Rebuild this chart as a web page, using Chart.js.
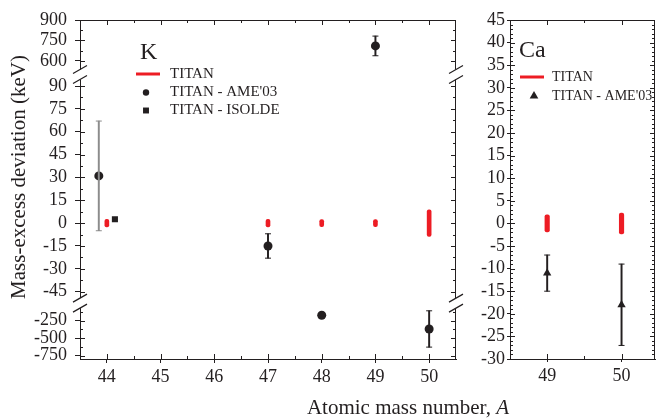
<!DOCTYPE html>
<html>
<head>
<meta charset="utf-8">
<script src="https://cdn.jsdelivr.net/npm/chart.js@4.4.1/dist/chart.umd.min.js"></script>
<style>
  body { margin: 0; background: #fff; overflow: hidden; }
  #wrap { position: relative; width: 656px; height: 419px; overflow: hidden; }
  #kChart { position: absolute; left: 0; top: 0; }
  #caChart { position: absolute; left: 470px; top: 0; }
</style>
</head>
<body>
<div id="wrap">
  <canvas id="kChart" width="656" height="419"></canvas>
  <canvas id="caChart" width="200" height="419"></canvas>
</div>
<script>
// K panel data (keV)
const kTitanMass = [44, 47, 48, 49, 50];
const kTitanErr = [2.5, 2.5, 2.3, 2.3, 8.7];
const kAmeMass = [43.85, 47, 48, 49, 50];
const kAmeDev = [31, -15, -174, 710, -370];
const kAmeErr = [36, 8, 0, 72, 260];
const kIsoldeMass = [44.15];
const kIsoldeDev = [2.5];
const kMassTicks = [44, 45, 46, 47, 48, 49, 50];
const kTopTicks = [600, 750, 900];
const kMidTicks = [-45, -30, -15, 0, 15, 30, 45, 60, 75, 90];
const kBotTicks = [-750, -500, -250];

// Ca panel data (keV)
const caTitanMass = [49, 50];
const caTitanErr = [1.9, 2.3];
const caAmeMass = [49, 50];
const caAmeDev = [-11, -18];
const caAmeErr = [4, 9];
const caMassTicks = [49, 50];
const caDevTicks = [-30, -25, -20, -15, -10, -5, 0, 5, 10, 15, 20, 25, 30, 35, 40, 45];

const ink = '#231f20';
const red = '#ed1c24';
const serif = "'Liberation Serif', 'Times New Roman', serif";

// broken y axis of the K panel: three stacked pieces, top to bottom
const kSegs = [
  { id: 'yTop', min: 500, max: 900, ticks: kTopTicks, minor: 75, weight: 54.7 },
  { id: 'yMid', min: -52.5, max: 97.5, ticks: kMidTicks, minor: 7.5, weight: 229 },
  { id: 'yBot', min: -800, max: 0, ticks: kBotTicks, minor: 125, weight: 56 }
];
function segOf(v) { return kSegs.find(s => v >= s.min && v <= s.max).id; }

// gray whisker for the shifted A=44 point, black otherwise
const whisk = c => (c.raw && c.raw.x < 44) ? '#8c8c8c' : ink;

function errorSets(mass, dev, err, idx, axisId) {
  idx = idx.filter(i => err[i] > 0);
  return [
    { type: 'bar', yAxisID: axisId, grouped: false, barThickness: 1.3, backgroundColor: whisk, borderWidth: 0,
      data: idx.map(i => ({ x: mass[i], y: [dev[i] - err[i], dev[i] + err[i]] })) },
    { type: 'scatter', yAxisID: axisId, pointStyle: 'line', pointRadius: 3, pointBorderColor: whisk, pointBorderWidth: 1,
      data: idx.flatMap(i => [{ x: mass[i], y: dev[i] - err[i] }, { x: mass[i], y: dev[i] + err[i] }]) }
  ];
}

function marks(scale, minor) {
  const majors = scale.ticks.map(t => t.value);
  const out = majors.map(v => ({ v, major: true }));
  const start = Math.ceil(scale.min / minor - 1e-9) * minor;
  for (let v = start; v < scale.max - 1e-9; v += minor) {
    if (v <= scale.min + 1e-9) continue;
    if (!majors.some(m => Math.abs(m - v) < 1e-6)) out.push({ v, major: false });
  }
  return out;
}

// frame, inward ticks, axis breaks, labels and legends
const decor = {
  id: 'decor',
  afterDraw(chart, args, o) {
    const ctx = chart.ctx, a = chart.chartArea;
    ctx.save();
    ctx.strokeStyle = ink;
    ctx.lineWidth = 1;
    ctx.beginPath();
    ctx.moveTo(a.left, a.top + 0.5); ctx.lineTo(a.right, a.top + 0.5);
    ctx.moveTo(a.right - 0.5, a.top); ctx.lineTo(a.right - 0.5, a.bottom);
    const xs = chart.scales.x;
    marks(xs, o.xMinor).forEach(t => {
      const p = Math.round(xs.getPixelForValue(t.v)) + 0.5, len = t.major ? 5 : 3;
      ctx.moveTo(p, a.bottom); ctx.lineTo(p, a.bottom - len);
      ctx.moveTo(p, a.top); ctx.lineTo(p, a.top + len);
    });
    o.yAxes.forEach(([id, minor]) => {
      const ys = chart.scales[id];
      marks(ys, minor).forEach(t => {
        const p = Math.round(ys.getPixelForValue(t.v)) + 0.5, len = t.major ? 5 : 3;
        ctx.moveTo(a.left, p); ctx.lineTo(a.left + len, p);
        ctx.moveTo(a.right, p); ctx.lineTo(a.right - len, p);
      });
    });
    ctx.stroke();

    (o.breaks || []).forEach(id => {
      const yc = chart.scales[id].bottom;
      [a.left, a.right].forEach(x => {
        ctx.fillStyle = '#fff';
        ctx.fillRect(x - 3, yc - 5, 6, 10);
        ctx.beginPath();
        [-5, 5].forEach(d => { ctx.moveTo(x - 7, yc + d + 4); ctx.lineTo(x + 7, yc + d - 4); });
        ctx.lineWidth = 1.2;
        ctx.stroke();
      });
    });

    (o.legend || []).forEach(it => {
      if (it.mark === 'line') {
        ctx.strokeStyle = red; ctx.lineWidth = 3;
        ctx.beginPath(); ctx.moveTo(it.x - 12, it.y); ctx.lineTo(it.x + 12, it.y); ctx.stroke();
      } else {
        ctx.fillStyle = ink;
        Chart.helpers.drawPoint(ctx, { pointStyle: it.mark, radius: it.r, borderWidth: 0, rotation: 0 }, it.x, it.y);
      }
      ctx.fillStyle = ink;
      ctx.font = it.size + 'px ' + serif;
      ctx.textAlign = 'left'; ctx.textBaseline = 'middle';
      ctx.fillText(it.text, it.tx, it.y);
    });

    (o.texts || []).forEach(t => {
      ctx.save();
      ctx.translate(t.x, t.y);
      if (t.rotate) ctx.rotate(t.rotate);
      ctx.fillStyle = ink; ctx.textBaseline = 'middle'; ctx.textAlign = 'left';
      const parts = t.parts.map(([s, st]) => {
        ctx.font = (st || '') + ' ' + t.size + 'px ' + serif;
        return { s, st, w: ctx.measureText(s).width };
      });
      let x = t.align === 'center' ? -parts.reduce((acc, p) => acc + p.w, 0) / 2 : 0;
      parts.forEach(p => {
        ctx.font = (p.st || '') + ' ' + t.size + 'px ' + serif;
        ctx.fillText(p.s, x, 0);
        x += p.w;
      });
      ctx.restore();
    });
    ctx.restore();
  }
};

function axisX(min, max, ticks, tickLen, pad) {
  return {
    type: 'linear', min, max, offset: false,
    afterBuildTicks: s => { s.ticks = ticks.map(v => ({ value: v })); },
    afterFit: s => { s.height = 60; },
    border: { color: ink },
    grid: { drawOnChartArea: false, offset: false, tickLength: tickLen, color: ink },
    ticks: { autoSkip: false, maxRotation: 0, padding: pad, color: ink, font: { family: serif, size: 18 }, callback: v => String(v) }
  };
}

// ---- K chart ----
// stacked left axes are laid out last-defined on top, so add them bottom first
const kScales = { x: axisX(43.5, 50.5, kMassTicks, 4, 3) };
kSegs.slice().reverse().forEach(s => {
  kScales[s.id] = {
    type: 'linear', position: 'left', stack: 'k', stackWeight: s.weight, min: s.min, max: s.max,
    afterBuildTicks: sc => { sc.ticks = s.ticks.map(v => ({ value: v })); },
    afterFit: sc => { sc.width = 80; },
    border: { color: ink },
    grid: { drawOnChartArea: false, tickLength: 5, color: ink },
    ticks: { autoSkip: false, padding: 8, color: ink, font: { family: serif, size: 18 }, callback: v => String(v) }
  };
});

const kDatasets = [
  { type: 'bar', yAxisID: 'yMid', grouped: false, barThickness: 4, backgroundColor: red, borderRadius: 2, borderSkipped: false,
    data: kTitanMass.map((m, i) => ({ x: m, y: [-kTitanErr[i], kTitanErr[i]] })) },
  { type: 'scatter', yAxisID: segOf(kIsoldeDev[0]), pointStyle: 'rect', pointRadius: 4.3, pointBackgroundColor: ink, pointBorderWidth: 0,
    data: kIsoldeMass.map((m, i) => ({ x: m, y: kIsoldeDev[i] })) }
];
kSegs.forEach(s => {
  const idx = kAmeMass.map((m, i) => i).filter(i => segOf(kAmeDev[i]) === s.id);
  if (!idx.length) return;
  kDatasets.push(...errorSets(kAmeMass, kAmeDev, kAmeErr, idx, s.id));
  kDatasets.push({ type: 'scatter', yAxisID: s.id, pointStyle: 'circle', pointRadius: 4.5, pointBackgroundColor: ink, pointBorderWidth: 0,
    data: idx.map(i => ({ x: kAmeMass[i], y: kAmeDev[i] })) });
});

new Chart(document.getElementById('kChart'), {
  type: 'scatter',
  data: { datasets: kDatasets },
  options: {
    responsive: false, animation: false, events: [],
    layout: { padding: { left: 0, top: 20, right: 200, bottom: 0 } },
    scales: kScales,
    plugins: {
      legend: { display: false }, tooltip: { enabled: false },
      decor: {
        xMinor: 0.5,
        yAxes: kSegs.map(s => [s.id, s.minor]),
        breaks: ['yTop', 'yMid'],
        legend: [
          { mark: 'line', x: 148, y: 74, text: 'TITAN', tx: 170, size: 15 },
          { mark: 'circle', r: 3.2, x: 146, y: 92.5, text: "TITAN - AME'03", tx: 170, size: 15 },
          { mark: 'rect', r: 4.2, x: 146, y: 110.5, text: 'TITAN - ISOLDE', tx: 170, size: 15 }
        ],
        texts: [
          { parts: [['K']], x: 140, y: 53, size: 24 },
          { parts: [['Mass-excess deviation (keV)']], x: 19, y: 177, size: 21, align: 'center', rotate: -Math.PI / 2 },
          { parts: [['Atomic mass number, '], ['A', 'italic']], x: 408, y: 408, size: 21, align: 'center' }
        ]
      }
    }
  },
  plugins: [decor]
});

// ---- Ca chart ----
const caDatasets = [
  { type: 'bar', yAxisID: 'y', grouped: false, barThickness: 4.5, backgroundColor: red, borderRadius: 2, borderSkipped: false,
    data: caTitanMass.map((m, i) => ({ x: m, y: [-caTitanErr[i], caTitanErr[i]] })) },
  ...errorSets(caAmeMass, caAmeDev, caAmeErr, caAmeMass.map((m, i) => i), 'y'),
  { type: 'scatter', yAxisID: 'y', pointStyle: 'triangle', pointRadius: 4.8, pointBackgroundColor: ink, pointBorderWidth: 0,
    data: caAmeMass.map((m, i) => ({ x: m, y: caAmeDev[i] })) }
];

new Chart(document.getElementById('caChart'), {
  type: 'scatter',
  data: { datasets: caDatasets },
  options: {
    responsive: false, animation: false, events: [],
    layout: { padding: { left: 0, top: 20, right: 15, bottom: 0 } },
    scales: {
      x: axisX(48.5, 50.45, caMassTicks, 3, 3),
      y: {
        type: 'linear', position: 'left', min: -30, max: 45,
        afterBuildTicks: sc => { sc.ticks = caDevTicks.map(v => ({ value: v })); },
        afterFit: sc => { sc.width = 40; },
        border: { color: ink },
        grid: { drawOnChartArea: false, tickLength: 3, color: ink },
        ticks: { autoSkip: false, padding: 2, color: ink, font: { family: serif, size: 18 }, callback: v => String(v) }
      }
    },
    plugins: {
      legend: { display: false }, tooltip: { enabled: false },
      decor: {
        xMinor: 0.5,
        yAxes: [['y', 1]],
        legend: [
          { mark: 'line', x: 62, y: 77, text: 'TITAN', tx: 82, size: 14 },
          { mark: 'triangle', r: 5, x: 64, y: 96, text: "TITAN - AME'03", tx: 82, size: 14 }
        ],
        texts: [
          { parts: [['Ca']], x: 49, y: 51, size: 24 }
        ]
      }
    }
  },
  plugins: [decor]
});
</script>
</body>
</html>
